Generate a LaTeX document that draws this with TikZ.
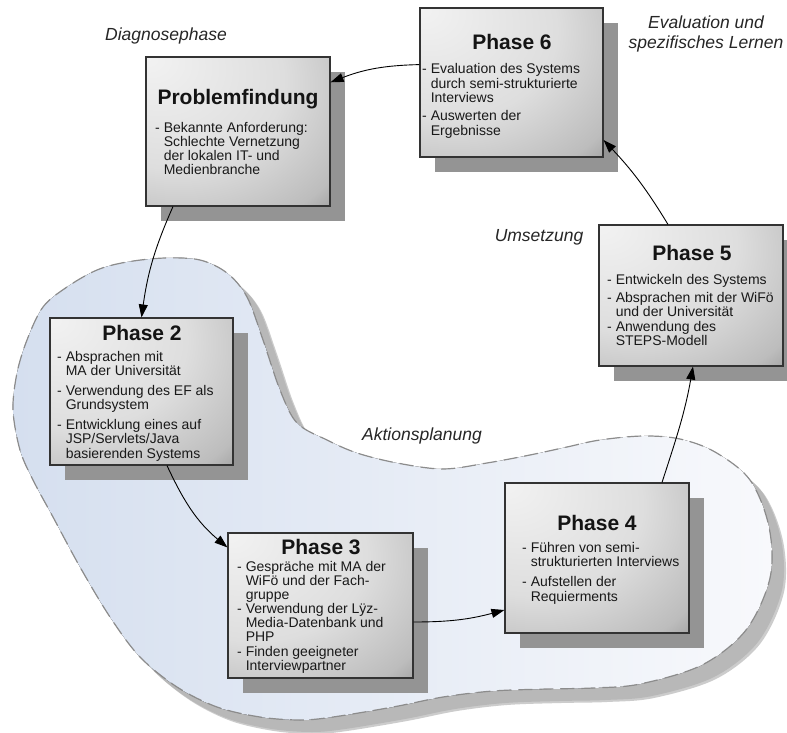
\documentclass[tikz,border=0pt]{standalone}
\usepackage{fontspec}
\setmainfont{Liberation Sans}
\usetikzlibrary{arrows.meta,shadows}

% light top-left, darkening towards the lower right corner
\pgfdeclareradialshading{boxshade}{\pgfpoint{-25bp}{25bp}}{%
  color(0bp)=(black!5); color(30bp)=(black!13); color(48bp)=(black!26);
  color(58bp)=(black!45); color(72bp)=(black!74); color(100bp)=(black!74)}

\definecolor{blobL}{RGB}{213,223,239}
\definecolor{blobR}{RGB}{248,249,252}

% outline of the action-planning region
\newcommand\blobpath{plot[smooth cycle, tension=0.55] coordinates {
  (20,-450) (13,-410) (17,-373) (27,-340) (43,-307) (67,-287) (97,-270)
  (127,-262) (165,-258) (200,-260) (227,-273) (247,-297) (263,-340)
  (280,-390) (297,-423) (327,-440) (357,-453) (397,-463) (443,-469)
  (487,-463) (530,-455) (567,-447) (600,-440) (643,-436) (680,-439)
  (715,-452) (750,-480) (769,-527) (770,-578) (746,-630) (702,-665)
  (640,-684) (593,-688) (547,-689) (493,-691) (443,-697) (393,-707)
  (333,-717) (300,-720) (260,-717) (217,-707) (177,-687) (140,-657)
  (110,-617) (80,-567) (53,-517) (33,-480)}}

\begin{document}
\begin{tikzpicture}[x=1pt,y=1pt,
  phasebox/.style={draw=black!80, line width=1.1pt, shading=boxshade, inner sep=0pt,
    general shadow={fill=black!42, shadow xshift=15pt, shadow yshift=-15pt}},
  ttl/.style={font=\fontsize{21}{24}\selectfont\bfseries, text=black!92, inner sep=0pt, anchor=base},
  body/.style={font=\fontsize{14}{#1}\selectfont, text=black!90, inner sep=0pt, anchor=base west},
  body/.default=13.7,
  phaselabel/.style={font=\fontsize{17.5}{20}\selectfont\itshape, text=black!85, inner sep=0pt, anchor=base},
  conn/.style={-{Triangle[length=13pt,width=9pt]}, line width=0.9pt, black}]

\useasboundingbox (0,0) rectangle (787,-733);
\fill[white] (0,0) rectangle (787,-733);

% region: soft shadow, fill, dashed outline
\fill[black!20] [shift={(14,-14)}] \blobpath;
\fill[black!28] [shift={(12,-12)}] \blobpath;
\fill[left color=blobL, right color=blobR] \blobpath;
\draw[black!45, line width=1.2pt, dash pattern=on 14pt off 7pt] \blobpath;

% phase boxes
\node[phasebox, minimum width=184pt, minimum height=149pt] (prob) at (238,-131.5) {};
\node[phasebox, minimum width=183pt, minimum height=149pt] (p6) at (511.5,-82.5) {};
\node[phasebox, minimum width=183pt, minimum height=147pt] (p2) at (141.5,-391.5) {};
\node[phasebox, minimum width=185pt, minimum height=145pt] (p3) at (320.5,-605.5) {};
\node[phasebox, minimum width=184pt, minimum height=150pt] (p4) at (597,-558) {};
\node[phasebox, minimum width=184pt, minimum height=141pt] (p5) at (691,-295.5) {};

% titles
\node[ttl] (probt) at (238,-105) {Problemfindung};
\node[ttl] (p6t) at (512,-50) {Phase 6};
\node[ttl] (p2t) at (142,-340) {Phase 2};
\node[ttl] (p3t) at (321,-554) {Phase 3};
\node[ttl] (p4t) at (597,-530.5) {Phase 4};
\node[ttl] (p5t) at (692,-260) {Phase 5};

% item lists
\node[body=13.5] (probb) at (155,-132) {\begin{tabular}[t]{@{}l@{\hspace{3.9pt}}l@{}}
  - & Bekannte Anforderung:\\ & Schlechte Vernetzung\\ & der lokalen IT- und\\ & Medienbranche
  \end{tabular}};
\node[body=13.4] (p6b) at (422,-74) {\begin{tabular}[t]{@{}l@{\hspace{3.9pt}}l@{}}
  - & Evaluation des Systems\\ & durch semi-strukturierte\\ & Interviews\\[4.4pt]
  - & Auswerten der\\ & Ergebnisse
  \end{tabular}};
\node[body=13.7] (p2b) at (57,-361.7) {\begin{tabular}[t]{@{}l@{\hspace{3.9pt}}l@{}}
  - & Absprachen mit\\ & MA der Universität\\[5.5pt]
  - & Verwendung des EF als\\ & Grundsystem\\[5.5pt]
  - & Entwicklung eines auf\\ & JSP/Servlets/Java\\ & basierenden Systems
  \end{tabular}};
\node[body=13.9] (p3b) at (237,-571) {\begin{tabular}[t]{@{}l@{\hspace{3.9pt}}l@{}}
  - & Gespräche mit MA der\\ & WiFö und der Fach-\\ & gruppe\\
  - & Verwendung der Lÿz-\\ & Media-Datenbank und\\ & PHP\\
  - & Finden geeigneter\\ & Interviewpartner
  \end{tabular}};
\node[body=13.7] (p4b) at (522,-552.7) {\begin{tabular}[t]{@{}l@{\hspace{3.9pt}}l@{}}
  - & Führen von semi-\\ & strukturierten Interviews\\[5.6pt]
  - & Aufstellen der\\ & Requierments
  \end{tabular}};
\node[body=14] (p5b) at (607,-284) {\begin{tabular}[t]{@{}l@{\hspace{3.9pt}}l@{}}
  - & Entwickeln des Systems\\[4.3pt]
  - & Absprachen mit der WiFö\\ & und der Universität\\
  - & Anwendung des\\ & STEPS-Modell
  \end{tabular}};

% phase labels
\node[phaselabel] (ldiag) at (166,-41) {Diagnosephase};
\node[phaselabel] (leval) at (706,-29) {\begin{tabular}[t]{@{}c@{}}Evaluation und\\ spezifisches Lernen\end{tabular}};
\node[phaselabel] (lums) at (539,-241) {Umsetzung};
\node[phaselabel] (lakt) at (422,-440) {Aktionsplanung};

% cycle connectors
\draw[conn] (p6.169) to[bend right=10] (prob.28);
\draw[conn] ([xshift=-65pt]prob.south) to[bend right=8] (p2.north);
\draw[conn] ([xshift=25.5pt]p2.south) to[out=-65,in=140] ([yshift=-15pt]p3.north west);
\draw[conn] ([yshift=-16.5pt]p3.east) to[out=0,in=195] ([yshift=-52pt]p4.west);
\draw[conn] ([xshift=65pt]p4.north) to[out=72,in=-100] ([xshift=2pt]p5.south);
\draw[conn] ([xshift=-23pt]p5.north) to[bend right=6] ([yshift=-57.5pt]p6.east);

\end{tikzpicture}
\end{document}
